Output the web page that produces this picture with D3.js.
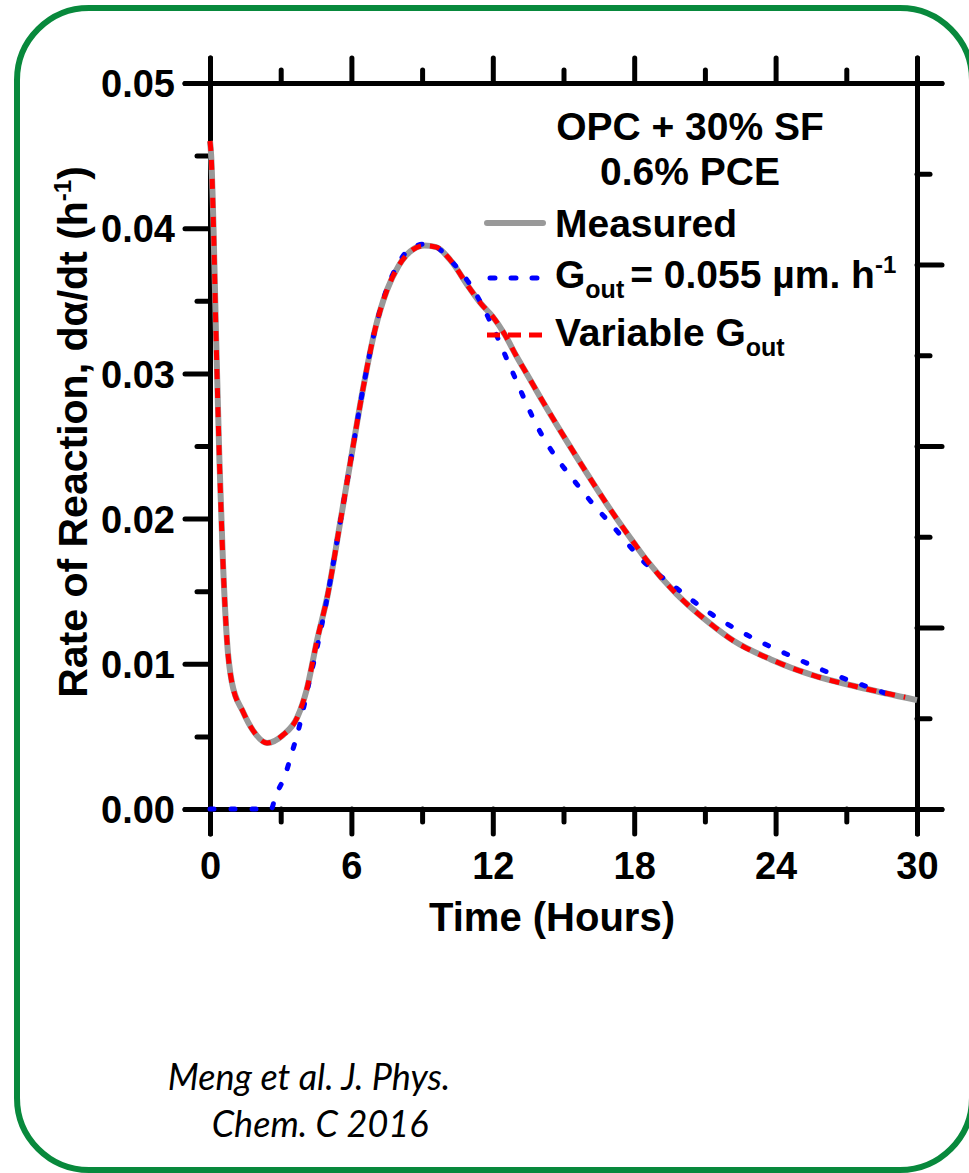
<!DOCTYPE html>
<html>
<head>
<meta charset="utf-8">
<script src="https://cdn.jsdelivr.net/npm/d3@7"></script>
<style>
  body { margin: 0; background: #fff; }
  text { font-family: "Liberation Sans", Arial, sans-serif; font-weight: bold; fill: #000; }
  .axis path, .axis line { stroke: #000; stroke-width: 5; stroke-linecap: round; }
  .cite { font-family: Lato, "Open Sans", sans-serif; font-weight: normal; font-style: italic; }
</style>
</head>
<body>
<script>
var W = 969, H = 1173;

// measured rate of reaction (grey)
var measuredT = [0, 0.05, 0.15, 0.25, 0.4, 0.55, 0.72, 0.93, 1.4, 1.83, 2.42, 3.1, 3.7, 4.1, 4.54, 5.0, 5.5, 6.0, 6.5, 7.0, 7.5, 8.0, 8.5, 9.1, 9.6, 10.2, 11.0, 11.5, 12.0, 12.5, 13.0, 13.5, 14.0, 15.0, 16.0, 17.0, 18.0, 18.5, 19.8, 21.2, 22.2, 23.8, 25.6, 27.5, 30];
var measuredV = [0.046, 0.045, 0.040, 0.033, 0.024, 0.017, 0.0116, 0.0087, 0.0067, 0.0054, 0.00455, 0.0051, 0.0063, 0.0082, 0.0116, 0.0148, 0.0195, 0.0243, 0.0290, 0.0330, 0.0357, 0.0374, 0.0384, 0.0388, 0.0387, 0.0378, 0.0359, 0.0348, 0.0339, 0.0327, 0.0312, 0.0298, 0.0284, 0.0257, 0.0231, 0.0206, 0.0183, 0.0172, 0.0148, 0.0128, 0.0116, 0.0103, 0.0092, 0.0084, 0.0075];

// model with constant Gout = 0.055 (blue)
var constT = [0, 2.6, 2.76, 3.18, 3.48, 3.73, 3.95, 4.2, 4.5, 5.0, 5.5, 6.0, 6.5, 7.0, 7.5, 8.0, 8.5, 9.1, 9.6, 10.2, 11.2, 12.0, 12.7, 14.0, 15.7, 17.4, 18.3, 19.8, 21.3, 23.0, 24.7, 26.4, 28.1, 29.3];
var constV = [0, 0, 0.0008, 0.0023, 0.0039, 0.0053, 0.0068, 0.0087, 0.0108, 0.0148, 0.0195, 0.0243, 0.0290, 0.0330, 0.0358, 0.0376, 0.0386, 0.0389, 0.0387, 0.0378, 0.0357, 0.0332, 0.0306, 0.0260, 0.0221, 0.0189, 0.0172, 0.0152, 0.0134, 0.0118, 0.0105, 0.0093, 0.0083, 0.0076];

// model with variable Gout (red)
var variableT = [0, 0.05, 0.15, 0.25, 0.4, 0.55, 0.72, 0.93, 1.4, 1.83, 2.42, 3.1, 3.7, 4.1, 4.54, 5.0, 5.5, 6.0, 6.5, 7.0, 7.5, 8.0, 8.5, 9.1, 9.6, 10.2, 11.0, 11.5, 12.0, 12.5, 13.0, 13.5, 14.0, 15.0, 16.0, 17.0, 18.0, 18.5, 19.8, 21.2, 22.2, 23.8, 25.6, 27.5, 29.5];
var variableV = [0.046, 0.045, 0.040, 0.033, 0.024, 0.017, 0.0116, 0.0087, 0.0067, 0.0054, 0.00455, 0.0051, 0.0063, 0.0082, 0.0116, 0.0148, 0.0195, 0.0243, 0.0290, 0.0330, 0.0357, 0.0374, 0.0384, 0.0388, 0.0387, 0.0378, 0.0359, 0.0348, 0.0339, 0.0327, 0.0312, 0.0298, 0.0284, 0.0257, 0.0231, 0.0206, 0.0183, 0.0172, 0.0148, 0.0128, 0.0116, 0.0103, 0.0092, 0.0084, 0.0077];

var xMajor = [0, 6, 12, 18, 24, 30];
var xMinor = [3, 9, 15, 21, 27];
var yMajor = [0, 0.01, 0.02, 0.03, 0.04, 0.05];
var yMinor = [0.005, 0.015, 0.025, 0.035, 0.045];
var rightMajor = [0, 2, 4, 6, 8];
var rightMinor = [1, 3, 5, 7];

var svg = d3.select("body").append("svg")
  .attr("width", W)
  .attr("height", H);

// green rounded frame
svg.append("rect")
  .attr("x", 17).attr("y", 8)
  .attr("width", 955).attr("height", 1162)
  .attr("rx", 72).attr("ry", 72)
  .attr("fill", "none")
  .attr("stroke", "#08893c")
  .attr("stroke-width", 6);

var plotL = 210, plotR = 917, plotT = 83, plotB = 809;

var xScale = d3.scaleLinear().domain([0, 30]).range([plotL, plotR]);
var yScale = d3.scaleLinear().domain([0, 0.05]).range([plotB, plotT]);
var rScale = d3.scaleLinear().domain([0, 8]).range([plotB, plotT]);

function addAxis(axis, tx, ty) {
  var g = svg.append("g")
    .attr("class", "axis")
    .attr("transform", "translate(" + tx + "," + ty + ")")
    .call(axis);
  g.selectAll("text").attr("font-size", 38).attr("fill", "#000");
  return g;
}

// bottom
addAxis(d3.axisBottom(xScale).tickValues(xMajor).tickSize(25).tickPadding(18).tickFormat(d3.format("d")), 0, plotB);
addAxis(d3.axisBottom(xScale).tickValues(xMinor).tickSize(13).tickSizeOuter(0).tickFormat(""), 0, plotB);
// top
addAxis(d3.axisTop(xScale).tickValues(xMajor).tickSize(25).tickFormat(""), 0, plotT);
addAxis(d3.axisTop(xScale).tickValues(xMinor).tickSize(13).tickSizeOuter(0).tickFormat(""), 0, plotT);
// left
addAxis(d3.axisLeft(yScale).tickValues(yMajor).tickSize(25).tickPadding(10).tickFormat(d3.format(".2f")), plotL, 0)
  .selectAll("text").attr("dy", "0.36em");
addAxis(d3.axisLeft(yScale).tickValues(yMinor).tickSize(13).tickSizeOuter(0).tickFormat(""), plotL, 0);
// right (unlabelled)
addAxis(d3.axisRight(rScale).tickValues(rightMajor).tickSize(25).tickFormat(""), plotR, 0);
addAxis(d3.axisRight(rScale).tickValues(rightMinor).tickSize(13).tickSizeOuter(0).tickFormat(""), plotR, 0);

svg.selectAll(".axis path").attr("stroke-linecap", "square");

// curves
var line = d3.line()
  .x(function(d) { return xScale(d[0]); })
  .y(function(d) { return yScale(d[1]); })
  .curve(d3.curveMonotoneX);

svg.append("path")
  .datum(d3.zip(measuredT, measuredV))
  .attr("d", line)
  .attr("fill", "none")
  .attr("stroke", "#999999")
  .attr("stroke-width", 6);

svg.append("path")
  .datum(d3.zip(constT, constV))
  .attr("d", line)
  .attr("fill", "none")
  .attr("stroke", "#0000ff")
  .attr("stroke-width", 5)
  .attr("stroke-linecap", "round")
  .attr("stroke-dasharray", "4,17");

svg.append("path")
  .datum(d3.zip(variableT, variableV))
  .attr("d", line)
  .attr("fill", "none")
  .attr("stroke", "#ff0000")
  .attr("stroke-width", 5)
  .attr("stroke-dasharray", "10,9");

// axis titles
svg.append("text")
  .attr("x", 552).attr("y", 931)
  .attr("text-anchor", "middle")
  .attr("font-size", 40)
  .text("Time (Hours)");

var yl = svg.append("text")
  .attr("transform", "translate(87,432) rotate(-90)")
  .attr("text-anchor", "middle")
  .attr("font-size", 41);
yl.append("tspan").text("Rate of Reaction, d\u03b1/dt (h");
yl.append("tspan").attr("font-size", 24).attr("dy", -16).text("-1");
yl.append("tspan").attr("dy", 16).text(")");

// legend
svg.append("text").attr("x", 690).attr("y", 140).attr("text-anchor", "middle").attr("font-size", 39).text("OPC + 30% SF");
svg.append("text").attr("x", 690).attr("y", 185).attr("text-anchor", "middle").attr("font-size", 39).text("0.6% PCE");

var legX1 = 487, legX2 = 543, legText = 555;

svg.append("line").attr("x1", legX1).attr("x2", legX2).attr("y1", 223).attr("y2", 223)
  .attr("stroke", "#999999").attr("stroke-width", 6).attr("stroke-linecap", "round");
svg.append("text").attr("x", legText).attr("y", 237).attr("font-size", 39).text("Measured");

svg.append("line").attr("x1", legX1 + 3).attr("x2", legX2).attr("y1", 278).attr("y2", 278)
  .attr("stroke", "#0000ff").attr("stroke-width", 5).attr("stroke-linecap", "round").attr("stroke-dasharray", "5,16");
var t2 = svg.append("text").attr("x", legText).attr("y", 288).attr("font-size", 39);
t2.append("tspan").text("G");
t2.append("tspan").attr("font-size", 25).attr("dy", 10).text("out");
t2.append("tspan").attr("dy", -10).attr("dx", 6).text("= 0.055 \u00b5m. h");
t2.append("tspan").attr("font-size", 24).attr("dy", -15).text("-1");

svg.append("line").attr("x1", legX1).attr("x2", legX2).attr("y1", 335).attr("y2", 335)
  .attr("stroke", "#ff0000").attr("stroke-width", 5).attr("stroke-dasharray", "13,8");
var t3 = svg.append("text").attr("x", legText).attr("y", 346).attr("font-size", 39);
t3.append("tspan").text("Variable G");
t3.append("tspan").attr("font-size", 25).attr("dy", 10).text("out");

// citation
svg.append("text").attr("class", "cite").attr("x", 309).attr("y", 1090)
  .attr("text-anchor", "middle").attr("font-size", 36).text("Meng et al. J. Phys.");
svg.append("text").attr("class", "cite").attr("x", 320).attr("y", 1137)
  .attr("text-anchor", "middle").attr("font-size", 36).text("Chem. C 2016");
</script>
</body>
</html>
